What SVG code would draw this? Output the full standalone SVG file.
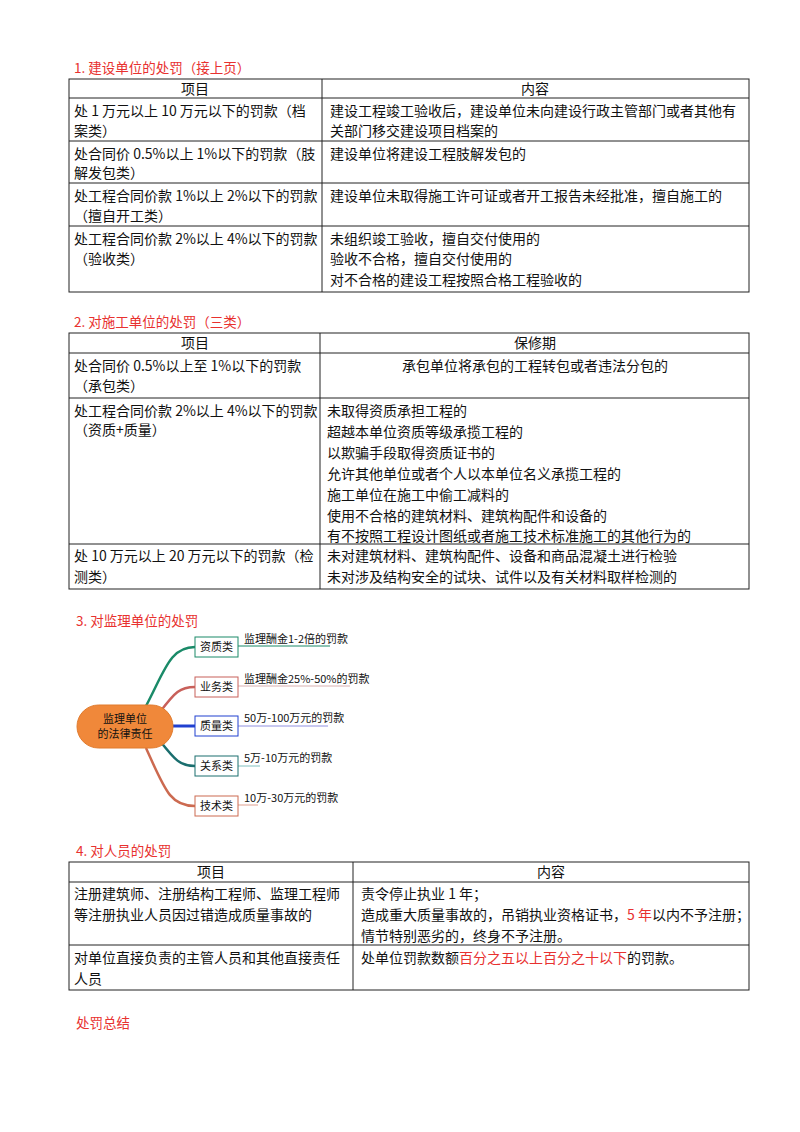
<svg xmlns="http://www.w3.org/2000/svg" width="800" height="1132" viewBox="0 0 800 1132">
<style>
text{font-family:"Noto Sans CJK SC","Noto Sans",sans-serif;font-size:14px;fill:#111}
.h{fill:#e8312f;font-size:13.5px}
.r{fill:#e8312f}
.t{fill:none;stroke:#222;stroke-width:1}
.m{font-size:11px}
.bx{fill:#fff;stroke-width:1}
</style>
<rect width="800" height="1132" fill="#fff"/>
<g id="table1">
<text class="h" x="74" y="73">1. 建设单位的处罚（接上页）</text>
<rect class="t" x="69" y="79" width="680" height="213"/>
<path class="t" d="M322 79V292M69 98H749M69 141H749M69 183H749M69 226H749"/>
<text x="195" y="94" text-anchor="middle">项目</text>
<text x="535" y="94" text-anchor="middle">内容</text>
<text x="74" y="116">处 1 万元以上 10 万元以下的罚款（档</text>
<text x="74" y="136">案类）</text>
<text x="330" y="116">建设工程竣工验收后，建设单位未向建设行政主管部门或者其他有</text>
<text x="330" y="136">关部门移交建设项目档案的</text>
<text x="74" y="159">处合同价 0.5%以上 1%以下的罚款（肢</text>
<text x="74" y="178">解发包类）</text>
<text x="330" y="159">建设单位将建设工程肢解发包的</text>
<text x="74" y="201">处工程合同价款 1%以上 2%以下的罚款</text>
<text x="74" y="221">（擅自开工类）</text>
<text x="330" y="201">建设单位未取得施工许可证或者开工报告未经批准，擅自施工的</text>
<text x="74" y="244">处工程合同价款 2%以上 4%以下的罚款</text>
<text x="74" y="264">（验收类）</text>
<text x="330" y="244">未组织竣工验收，擅自交付使用的</text>
<text x="330" y="264">验收不合格，擅自交付使用的</text>
<text x="330" y="285">对不合格的建设工程按照合格工程验收的</text>
</g>
<g id="table2">
<text class="h" x="74" y="327">2. 对施工单位的处罚（三类）</text>
<rect class="t" x="69" y="333" width="680" height="256"/>
<path class="t" d="M320 333V589M69 353H749M69 398H749M69 544H749"/>
<text x="195" y="348" text-anchor="middle">项目</text>
<text x="535" y="348" text-anchor="middle">保修期</text>
<text x="74" y="371">处合同价 0.5%以上至 1%以下的罚款</text>
<text x="74" y="391">（承包类）</text>
<text x="535" y="371" text-anchor="middle">承包单位将承包的工程转包或者违法分包的</text>
<text x="74" y="416">处工程合同价款 2%以上 4%以下的罚款</text>
<text x="74" y="435">（资质+质量）</text>
<text x="327" y="416">未取得资质承担工程的</text>
<text x="327" y="437">超越本单位资质等级承揽工程的</text>
<text x="327" y="458">以欺骗手段取得资质证书的</text>
<text x="327" y="479">允许其他单位或者个人以本单位名义承揽工程的</text>
<text x="327" y="500">施工单位在施工中偷工减料的</text>
<text x="327" y="521">使用不合格的建筑材料、建筑构配件和设备的</text>
<text x="327" y="541">有不按照工程设计图纸或者施工技术标准施工的其他行为的</text>
<text x="74" y="561">处 10 万元以上 20 万元以下的罚款（检</text>
<text x="74" y="582">测类）</text>
<text x="327" y="561">未对建筑材料、建筑构配件、设备和商品混凝土进行检验</text>
<text x="327" y="582">未对涉及结构安全的试块、试件以及有关材料取样检测的</text>
</g>
<text class="h" x="76" y="626">3. 对监理单位的处罚</text>
<g id="connectors" fill="none" stroke-width="2.5">
<path d="M146 706C165 670 170 647 195 647" stroke="#1a8a68"/>
<path d="M160 712C175 692 180 687 195 687" stroke="#c8605a"/>
<path d="M173 726H195" stroke="#2040d0" stroke-width="3"/>
<path d="M160 741C175 760 180 766 195 766" stroke="#1a6e6e"/>
<path d="M146 748C165 790 170 806 195 806" stroke="#cc6a50"/>
<g stroke-width="1">
<path d="M238 646H330" stroke="#1a8a68"/>
<path d="M238 686H350" stroke="#d8b0b0"/>
<path d="M238 726H328" stroke="#9090e0"/>
<path d="M238 766H260" stroke="#80c0c0"/>
<path d="M238 805H258" stroke="#e0a090"/>
</g>
</g>
<g id="center"><rect x="77" y="705" width="96" height="43" rx="21.5" fill="#f0883a" stroke="#e07a2c"/>
<text class="m" x="125" y="723" text-anchor="middle">监理单位</text><text class="m" x="125" y="738" text-anchor="middle">的法律责任</text></g>
<g id="n1"><rect class="bx" x="195" y="637" width="43" height="20" stroke="#1a8a68"/><text class="m" x="216.5" y="651" text-anchor="middle">资质类</text><text class="m" x="244" y="643">监理酬金1-2倍的罚款</text></g>
<g id="n2"><rect class="bx" x="195" y="677" width="43" height="20" stroke="#c8605a"/><text class="m" x="216.5" y="691" text-anchor="middle">业务类</text><text class="m" x="244" y="683">监理酬金25%-50%的罚款</text></g>
<g id="n3"><rect class="bx" x="195" y="716" width="43" height="20" stroke="#2040d0"/><text class="m" x="216.5" y="730" text-anchor="middle">质量类</text><text class="m" x="244" y="722">50万-100万元的罚款</text></g>
<g id="n4"><rect class="bx" x="195" y="756" width="43" height="20" stroke="#1a6e6e"/><text class="m" x="216.5" y="770" text-anchor="middle">关系类</text><text class="m" x="244" y="762">5万-10万元的罚款</text></g>
<g id="n5"><rect class="bx" x="195" y="796" width="43" height="20" stroke="#cc6a50"/><text class="m" x="216.5" y="810" text-anchor="middle">技术类</text><text class="m" x="244" y="802">10万-30万元的罚款</text></g>
<g id="table4">
<text class="h" x="76" y="856">4. 对人员的处罚</text>
<rect class="t" x="69" y="862" width="680" height="128"/>
<path class="t" d="M353 862V990M69 882H749M69 945H749"/>
<text x="211" y="877" text-anchor="middle">项目</text>
<text x="551" y="877" text-anchor="middle">内容</text>
<text x="74" y="899">注册建筑师、注册结构工程师、监理工程师</text>
<text x="74" y="920">等注册执业人员因过错造成质量事故的</text>
<text x="361" y="899">责令停止执业 1 年；</text>
<text x="361" y="920">造成重大质量事故的，吊销执业资格证书，<tspan class="r">5 年</tspan>以内不予注册；</text>
<text x="361" y="941">情节特别恶劣的，终身不予注册。</text>
<text x="74" y="963">对单位直接负责的主管人员和其他直接责任</text>
<text x="74" y="984">人员</text>
<text x="361" y="963">处单位罚款数额<tspan class="r">百分之五以上百分之十以下</tspan>的罚款。</text>
</g>
<text class="h" x="76" y="1028">处罚总结</text>
</svg>
